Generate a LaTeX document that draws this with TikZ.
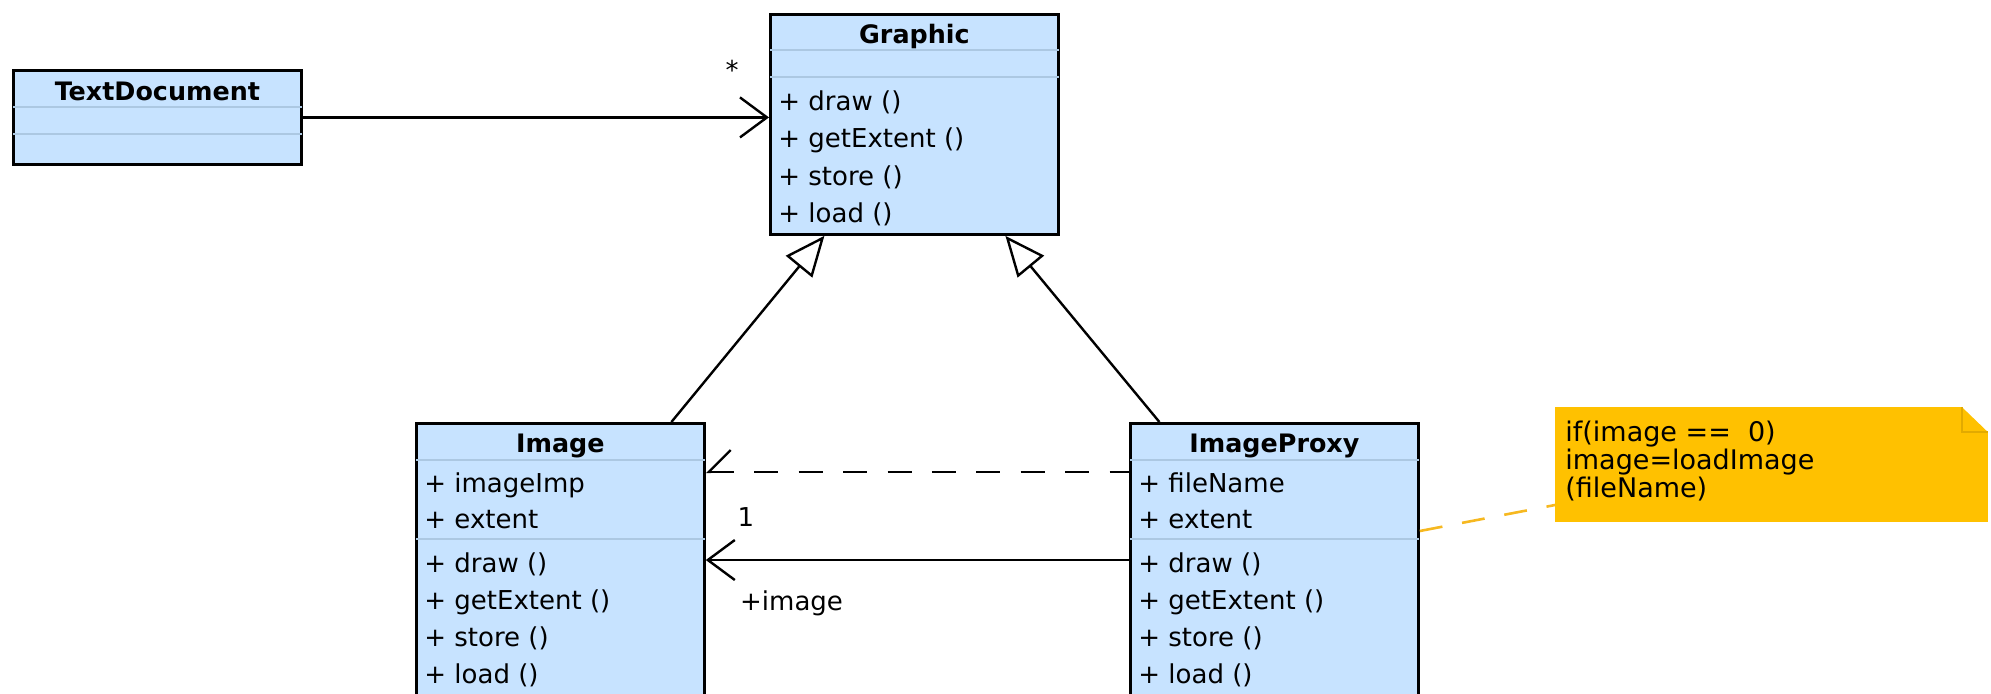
\documentclass[tikz,border=0pt]{standalone}
\usepackage{fontspec}
\setmainfont{DejaVu Sans}
\usetikzlibrary{arrows.meta,calc}

\definecolor{classfill}{RGB}{199,227,255}
\definecolor{classrule}{RGB}{172,200,226}
\definecolor{notefill}{RGB}{255,193,0}
\definecolor{notefold}{RGB}{226,170,0}
\definecolor{notelink}{RGB}{246,184,32}

\begin{document}
\begin{tikzpicture}[x=0.5pt,y=-0.5pt,
  classbox/.style={draw=black,line width=1.4pt,fill=classfill,rectangle,
                   inner sep=0pt,minimum width=144pt,anchor=north west},
  sepline/.style={draw=classrule,line width=0.6pt},
  classtitle/.style={font=\fontsize{12.7}{15}\selectfont\bfseries,inner sep=0pt,anchor=base},
  member/.style={font=\fontsize{13}{15}\selectfont,inner sep=0pt,anchor=base west},
  rolelabel/.style={font=\fontsize{13}{15}\selectfont,inner sep=0pt},
  link/.style={draw=black,line width=1.2pt},
  openarrow/.style={-{Straight Barb[length=13.5pt,width=20pt,line width=1.2pt]}},
  halfarrow/.style={{Straight Barb[harpoon,swap,length=11pt,width=22pt,line width=1.2pt]}-},
  inherit/.style={-{Triangle[length=20pt,width=17pt,fill=white,line width=1.2pt]}},
  notetext/.style={font=\fontsize{13.5}{13.8}\selectfont,inner sep=0pt,align=left,anchor=north west},
]
\useasboundingbox (0,0) rectangle (1991,693);
\clip (0,0) rectangle (1991,693);

% ---------- TextDocument ----------
\node[classbox,minimum height=47pt] (td) at (12,69) {};
\node[classtitle] (tdt) at ($(td.north)+(0,31)$) {TextDocument};
\draw[sepline] ($(td.north west)+(1,38)$) -- ($(td.north east)+(-1,38)$);
\draw[sepline] ($(td.north west)+(1,65)$) -- ($(td.north east)+(-1,65)$);

% ---------- Graphic ----------
\node[classbox,minimum height=110pt] (g) at (769,13) {};
\node[classtitle] (gt) at ($(g.north)+(0,30)$) {Graphic};
\draw[sepline] ($(g.north west)+(1,37)$) -- ($(g.north east)+(-1,37)$);
\draw[sepline] ($(g.north west)+(1,64)$) -- ($(g.north east)+(-1,64)$);
\node[member] (g1) at ($(g.north west)+(9,97)$)  {+ draw ()};
\node[member] (g2) at ($(g.north west)+(9,134.5)$) {+ getExtent ()};
\node[member] (g3) at ($(g.north west)+(9,172)$) {+ store ()};
\node[member] (g4) at ($(g.north west)+(9,209)$) {+ load ()};

% ---------- Image ----------
\node[classbox,minimum height=150pt] (img) at (415,422) {};
\node[classtitle] (imgt) at ($(img.north)+(0,30)$) {Image};
\draw[sepline] ($(img.north west)+(1,38)$) -- ($(img.north east)+(-1,38)$);
\node[member] (i1) at ($(img.north west)+(9,70)$)  {+ imageImp};
\node[member] (i2) at ($(img.north west)+(9,106.5)$) {+ extent};
\draw[sepline] ($(img.north west)+(1,117)$) -- ($(img.north east)+(-1,117)$);
\node[member] (i3) at ($(img.north west)+(9,150)$) {+ draw ()};
\node[member] (i4) at ($(img.north west)+(9,187)$) {+ getExtent ()};
\node[member] (i5) at ($(img.north west)+(9,224.5)$) {+ store ()};
\node[member] (i6) at ($(img.north west)+(9,261)$) {+ load ()};

% ---------- ImageProxy ----------
\node[classbox,minimum height=150pt] (ip) at (1129,422) {};
\node[classtitle] (ipt) at ($(ip.north)+(0,30)$) {ImageProxy};
\draw[sepline] ($(ip.north west)+(1,38)$) -- ($(ip.north east)+(-1,38)$);
\node[member] (p1) at ($(ip.north west)+(9,70)$)  {+ fileName};
\node[member] (p2) at ($(ip.north west)+(9,106.5)$) {+ extent};
\draw[sepline] ($(ip.north west)+(1,117)$) -- ($(ip.north east)+(-1,117)$);
\node[member] (p3) at ($(ip.north west)+(9,150)$) {+ draw ()};
\node[member] (p4) at ($(ip.north west)+(9,187)$) {+ getExtent ()};
\node[member] (p5) at ($(ip.north west)+(9,224.5)$) {+ store ()};
\node[member] (p6) at ($(ip.north west)+(9,261)$) {+ load ()};

% ---------- Note ----------
\node[inner sep=0pt,minimum width=216pt,minimum height=57pt,anchor=north west] (note) at (1555,407) {};
\fill[notefill] (note.north west) -- ($(note.north east)+(-26,0)$) -- ($(note.north east)+(0,25)$)
      -- (note.south east) -- (note.south west) -- cycle;
\draw[notefold,line width=0.8pt] ($(note.north east)+(-26,0)$) -- ($(note.north east)+(-26,25)$)
      -- ($(note.north east)+(0,25)$);
\node[notetext] (nt) at ($(note.north west)+(10,14)$)
  {if(image ==\ \ 0)\\image=loadImage\\(fileName)};

% ---------- Connectors ----------
% association TextDocument -> Graphic
\draw[link,openarrow] (td.east) -- (td.east -| g.west);
\node[rolelabel] (star) at ($(g.north west)+(-37,57)$) {*};

% generalisations
\draw[link,inherit] ($(img.north)+(111,0)$) -- ($(g.south)+(-90,0)$);
\draw[link,inherit] ($(ip.north)+(-115,0)$) -- ($(g.south)+(91,0)$);

% dependency ImageProxy -> Image (tip at the Image side)
\draw[link,dash pattern=on 12pt off 10.2pt,halfarrow]
  ($(img.north east)+(0,50)$) -- ($(ip.north west)+(0,50)$);

% association ImageProxy -> Image
\draw[link,openarrow] ($(ip.north west)+(0,138)$) -- ($(img.north east)+(0,138)$);
\node[rolelabel] (mult) at ($(img.north east)+(40,95)$) {1};
\node[rolelabel,anchor=west] (role) at ($(img.north east)+(34,181)$) {+image};

% note attachment
\draw[notelink,line width=1.3pt,dash pattern=on 11.5pt off 10pt]
  ($(ip.north east)+(0,109)$) -- ($(note.north west)+(0,98)$);
\end{tikzpicture}
\end{document}
